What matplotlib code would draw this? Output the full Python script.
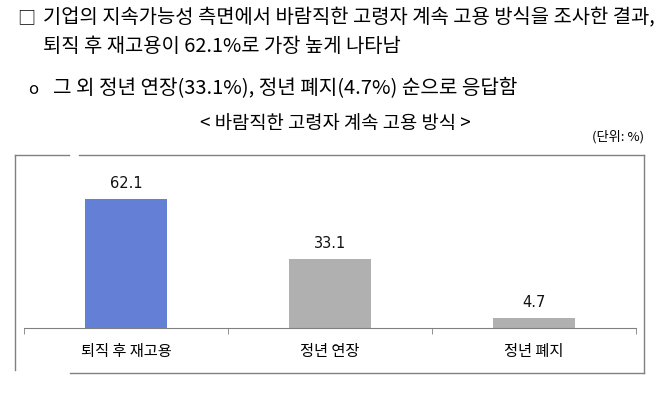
import matplotlib
matplotlib.use("Agg")
import matplotlib.pyplot as plt
from matplotlib.lines import Line2D

plt.rcParams['font.family'] = ['Noto Sans CJK KR', 'DejaVu Sans']

# data
categories = ['퇴직 후 재고용', '정년 연장', '정년 폐지']
values = [62.1, 33.1, 4.7]
bar_colors = ['#6380D6', '#B0B0B0', '#B0B0B0']

W, H = 669, 400
fig = plt.figure(figsize=(W / 100, H / 100), dpi=100)


def fx(px):
    return px / W


def fy(py):
    return 1 - py / H


# header text
fig.text(fx(17), fy(18), '□', fontsize=13, va='center', ha='left')
fig.text(fx(43), fy(18), '기업의 지속가능성 측면에서 바람직한 고령자 계속 고용 방식을 조사한 결과,',
         fontsize=14.3, va='center', ha='left')
fig.text(fx(43), fy(46), '퇴직 후 재고용이 62.1%로 가장 높게 나타남',
         fontsize=14.3, va='center', ha='left')
fig.text(fx(28), fy(89), 'o', fontsize=12, va='center', ha='left')
fig.text(fx(53), fy(89), '그 외 정년 연장(33.1%), 정년 폐지(4.7%) 순으로 응답함',
         fontsize=14.5, va='center', ha='left')
fig.text(fx(335), fy(123), '< 바람직한 고령자 계속 고용 방식 >',
         fontsize=13.5, va='center', ha='center')
fig.text(fx(644), fy(137), '(단위: %)', fontsize=9.5, va='center', ha='right')

# frame around chart (with small gaps like the original)
fc = '#808080'
fig.add_artist(Line2D([fx(15), fx(69)], [fy(155), fy(155)], color=fc, lw=1))
fig.add_artist(Line2D([fx(79), fx(644)], [fy(155), fy(155)], color=fc, lw=1))
fig.add_artist(Line2D([fx(644), fx(644)], [fy(155), fy(373)], color=fc, lw=1))
fig.add_artist(Line2D([fx(70), fx(644)], [fy(373), fy(373)], color=fc, lw=1))
fig.add_artist(Line2D([fx(15), fx(15)], [fy(155), fy(370)], color=fc, lw=1))

# bar chart
ax = fig.add_axes([fx(24), fy(328), fx(636) - fx(24), 145.4 / H])
x = list(range(len(categories)))
ax.bar(x, values, width=0.4, color=bar_colors)
for xi, v in zip(x, values):
    ax.annotate(f'{v}', (xi, v), xytext=(0, 6), textcoords='offset points',
                ha='center', va='bottom', fontsize=10.5, color='#111111',
                family=['Liberation Sans Narrow', 'DejaVu Sans'],
                annotation_clip=False)

ax.set_xlim(-0.5, 2.5)
ax.set_ylim(0, 70)
ax.set_yticks([])
ax.set_xticks(x)
ax.set_xticklabels(categories, fontsize=11)
ax.set_xticks([-0.5, 0.5, 1.5, 2.5], minor=True)
ax.tick_params(axis='x', which='major', length=0, pad=11)
ax.tick_params(axis='x', which='minor', length=4, color=fc, direction='out')
for s in ['top', 'left', 'right']:
    ax.spines[s].set_visible(False)
ax.spines['bottom'].set_color(fc)
ax.patch.set_alpha(0)

fig.savefig('out.png', dpi=100)
